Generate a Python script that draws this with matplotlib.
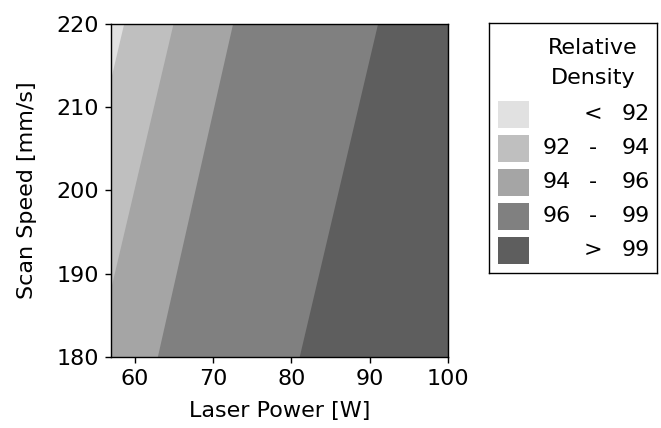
import matplotlib
matplotlib.use("Agg")
import matplotlib.pyplot as plt
from matplotlib.patches import Rectangle

# ---- data ----
scan_speed_ends = [180, 220]                 # mm/s (bottom, top)
boundary_levels = [92, 94, 96, 99]           # relative density boundaries
power_at_180 = [48.6, 54.9, 62.9, 81.0]      # laser power of each boundary at 180 mm/s
power_at_220 = [58.6, 64.9, 72.5, 91.0]      # laser power of each boundary at 220 mm/s
band_labels = [("", "<", "92"), ("92", "-", "94"), ("94", "-", "96"),
               ("96", "-", "99"), ("", ">", "99")]
band_colors = ["#e1e1e1", "#bfbfbf", "#a5a5a5", "#808080", "#5e5e5e"]
x_ticks = [60, 70, 80, 90, 100]
y_ticks = [180, 190, 200, 210, 220]
x_limits = (57, 100)
y_limits = (180, 220)

plt.rcParams['font.family'] = ['DejaVu Sans']
FS = 16

fig = plt.figure(figsize=(6.61, 4.28), dpi=100)
W, H = 661, 428
ax = fig.add_axes([111 / W, 1 - 357 / H, (448 - 111) / W, (357 - 24) / H])

ax.set_facecolor(band_colors[0])
for i, lvl in enumerate(boundary_levels):
    ax.fill_betweenx(scan_speed_ends, [power_at_180[i], power_at_220[i]],
                     x_limits[1] + 20, color=band_colors[i + 1], lw=0)

ax.set_xlim(*x_limits)
ax.set_ylim(*y_limits)
ax.set_xticks(x_ticks)
ax.set_yticks(y_ticks)
ax.tick_params(labelsize=FS, direction='out', length=4.3, width=1, color='black', pad=4.3)
for s in ax.spines.values():
    s.set_linewidth(1.0)
    s.set_color('black')
ax.set_xlabel("Laser Power [W]", fontsize=FS, labelpad=9)
ax.set_ylabel("Scan Speed [mm/s]", fontsize=FS, labelpad=14)

# ---- manual legend ----
lx0, ly0, lx1, ly1 = 489, 23, 657, 273
lax = fig.add_axes([lx0 / W, 1 - ly1 / H, (lx1 - lx0) / W, (ly1 - ly0) / H])
lax.set_xlim(0, lx1 - lx0)
lax.set_ylim(ly1 - ly0, 0)
lax.set_xticks([])
lax.set_yticks([])
for s in lax.spines.values():
    s.set_linewidth(1.0)
    s.set_color('black')
lax.text(104, 25, "Relative", ha='center', va='center', fontsize=FS)
lax.text(104, 55, "Density", ha='center', va='center', fontsize=FS)
row_y = [91, 125, 159, 193, 227]
for (left, mid, right), c, yy in zip(band_labels, band_colors, row_y):
    lax.add_patch(Rectangle((9, yy - 13.5), 31, 27, facecolor=c, edgecolor='none'))
    if left:
        lax.text(54, yy, left, ha='left', va='center', fontsize=FS)
    lax.text(104, yy, mid, ha='center', va='center', fontsize=FS)
    lax.text(161, yy, right, ha='right', va='center', fontsize=FS)

fig.savefig("out.png", dpi=100)
